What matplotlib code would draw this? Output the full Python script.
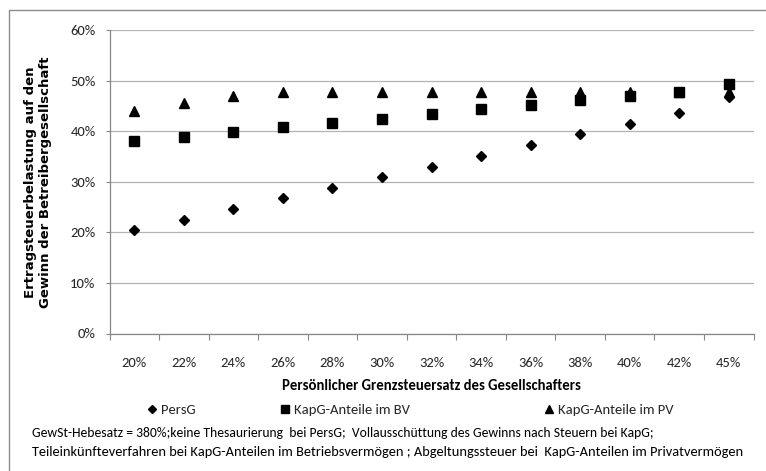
import matplotlib
matplotlib.use("Agg")
import matplotlib.pyplot as plt
from matplotlib import font_manager
from matplotlib.patches import Rectangle

# Persönlicher Grenzsteuersatz (Kategorien) und Ertragsteuerbelastung in %
rates = ["20%", "22%", "24%", "26%", "28%", "30%", "32%",
         "34%", "36%", "38%", "40%", "42%", "45%"]
pers_g = [20.4, 22.5, 24.6, 26.7, 28.8, 30.9, 33.0, 35.1, 37.2, 39.4, 41.4, 43.5, 46.8]
kapg_bv = [38.1, 38.9, 39.8, 40.8, 41.6, 42.5, 43.4, 44.3, 45.2, 46.2, 47.0, 47.8, 49.3]
kapg_pv = [44.0, 45.5, 47.0, 47.7, 47.7, 47.7, 47.7, 47.7, 47.7, 47.7, 47.7, 47.7, 47.7]
y_ticks = [0, 10, 20, 30, 40, 50, 60]

series_labels = ["PersG", "KapG-Anteile im BV", "KapG-Anteile im PV"]
note_lines = [
    "GewSt-Hebesatz = 380%;keine Thesaurierung  bei PersG;  Vollausschüttung des Gewinns nach Steuern bei KapG;",
    "Teileinkünfteverfahren bei KapG-Anteilen im Betriebsvermögen ; Abgeltungssteuer bei  KapG-Anteilen im Privatvermögen",
]


def pick_font(candidates):
    names = {f.name for f in font_manager.fontManager.ttflist}
    for name in candidates:
        if name in names:
            return name
    return "DejaVu Sans"


narrow = pick_font(["Carlito", "Liberation Sans Narrow", "Liberation Sans"])
text_color = "#262626"

fig = plt.figure(figsize=(7.66, 4.71), dpi=100)
fig.patch.set_facecolor("white")

# grauer Rahmen um das Diagramm
fig.patches.append(Rectangle((9 / 766, -0.2), 1.2, 1.2 - 9.5 / 471,
                             transform=fig.transFigure, fill=False,
                             edgecolor="#8c8c8c", linewidth=1.0))

ax = fig.add_axes([109.5 / 766, 1 - 333.5 / 471, 644 / 766, 303.5 / 471])
x = list(range(len(rates)))

ax.plot(x, kapg_pv, linestyle="none", marker="^", markersize=7.6,
        color="black", label=series_labels[2], zorder=3)
ax.plot(x, kapg_bv, linestyle="none", marker="s", markersize=7.4,
        color="black", label=series_labels[1], zorder=4)
ax.plot(x, pers_g, linestyle="none", marker="D", markersize=5.1,
        color="black", label=series_labels[0], zorder=5)

ax.set_xlim(-0.5, len(rates) - 0.5)
ax.set_ylim(0, 60)
ax.set_yticks(y_ticks)
ax.set_yticklabels([f"{v}%" for v in y_ticks], fontfamily=narrow,
                   fontsize=10.5, color=text_color)
ax.set_xticks(x)
ax.set_xticklabels(rates, fontfamily=narrow, fontsize=10.5, color=text_color)
ax.set_xticks([i - 0.5 for i in range(len(rates) + 1)], minor=True)

ax.tick_params(axis="x", which="major", length=0, pad=17)
ax.tick_params(axis="x", which="minor", length=4.5, width=0.8,
               color="#868686", direction="out")
ax.tick_params(axis="y", which="major", length=3, width=0.8,
               color="#868686", pad=7)

ax.grid(axis="y", color="#b3b3b3", linewidth=0.9)
ax.set_axisbelow(True)
for side in ["top", "right"]:
    ax.spines[side].set_visible(False)
for side in ["left", "bottom"]:
    ax.spines[side].set_color("#868686")
    ax.spines[side].set_linewidth(0.9)

ax.set_xlabel("Persönlicher Grenzsteuersatz des Gesellschafters",
              fontfamily=narrow, fontweight="bold", fontsize=10.5,
              color="black", labelpad=7)

fig.text(38 / 766, 1 - 182 / 471,
         "Ertragsteuerbelastung auf den\nGewinn der Betreibergesellschaft",
         rotation=90, ha="center", va="center", multialignment="center",
         fontsize=9.5, fontweight="bold", color="black", linespacing=1.15)

# Legende: drei Einträge nebeneinander
handles, labels = ax.get_legend_handles_labels()
order = [2, 1, 0]
legend_x = [146, 279, 543]
for lx, idx in zip(legend_x, order):
    leg = fig.legend([handles[idx]], [labels[idx]], loc="center left",
                     bbox_to_anchor=(lx / 766, 1 - 410 / 471),
                     frameon=False, handlelength=0.8, handletextpad=0.25,
                     borderpad=0, borderaxespad=0, markerscale=0.85,
                     prop={"family": narrow, "size": 10.5})
    for t in leg.get_texts():
        t.set_color(text_color)

# Fußnote mit den Annahmen
fig.text(32 / 766, 1 - 433 / 471, note_lines[0], ha="left", va="center",
         fontfamily=narrow, fontsize=9.8, color="black")
fig.text(32 / 766, 1 - 452 / 471, note_lines[1], ha="left", va="center",
         fontfamily=narrow, fontsize=10.4, color="black")

fig.savefig("out.png", dpi=100)
